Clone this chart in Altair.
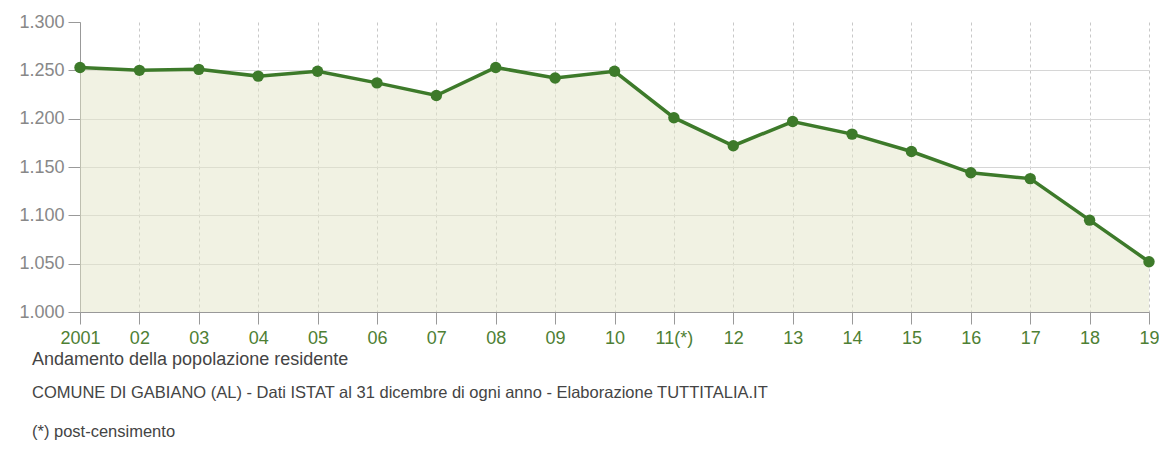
import altair as alt
import pandas as pd

# Data
years = ["2001", "02", "03", "04", "05", "06", "07", "08", "09", "10",
         "11(*)", "12", "13", "14", "15", "16", "17", "18", "19"]
population = [1253, 1250, 1251, 1244, 1249, 1237, 1224, 1253, 1242, 1249,
              1201, 1172, 1197, 1184, 1166, 1144, 1138, 1095, 1052]
y_ticks = [1000, 1050, 1100, 1150, 1200, 1250, 1300]
y_min, y_max = 1000, 1300

title_text = "Andamento della popolazione residente"
subtitle_lines = [
    "COMUNE DI GABIANO (AL) - Dati ISTAT al 31 dicembre di ogni anno - Elaborazione TUTTITALIA.IT",
    "(*) post-censimento",
]

df = pd.DataFrame({"anno": years, "pop": population})

GREEN = "#3d7a2a"
FONT = "Liberation Sans"

x = alt.X(
    "anno:O",
    sort=years,
    scale=alt.Scale(type="point", padding=0),
    axis=alt.Axis(
        title=None, labelAngle=0, labelColor="#4e8034", labelFontSize=18,
        labelFont=FONT, labelPadding=5, tickSize=12, tickColor="#999999",
        domainColor="#999999", grid=True, gridColor="#c8c8c8", gridDash=[3, 3],
    ),
)
y = alt.Y(
    "pop:Q",
    scale=alt.Scale(domain=[y_min, y_max], zero=False, nice=False),
    axis=alt.Axis(
        title=None, values=y_ticks,
        labelExpr="replace(format(datum.value, ','), ',', '.')",
        labelColor="#888888", labelFontSize=18, labelFont=FONT, labelPadding=4,
        tickSize=12, tickColor="#999999", domainColor="#999999",
        gridColor="#d6d6d6",
        gridOpacity={"condition": {"test": "datum.value === 1300", "value": 0}, "value": 1},
    ),
)

base = alt.Chart(df).encode(x=x, y=y)

area = base.mark_area(color="#e3e6c8", opacity=0.5).encode(y2=alt.datum(y_min))
line = base.mark_line(color=GREEN, strokeWidth=3.5)
points = base.mark_circle(color=GREEN, size=130, opacity=1)

chart = (
    alt.layer(area, line, points)
    .properties(
        width=1069,
        height=290,
        padding={"left": 72, "top": 14, "right": 10, "bottom": 153},
        autosize=alt.AutoSizeParams(type="none"),
        background="white",
        title=alt.TitleParams(
            text=title_text,
            subtitle=subtitle_lines,
            orient="bottom",
            anchor="start",
            frame="group",
            dx=-48,
            offset=4,
            font=FONT,
            fontSize=18,
            fontWeight="normal",
            color="#444444",
            subtitleFont=FONT,
            subtitleFontSize=16.5,
            subtitleColor="#444444",
            subtitleLineHeight=39,
            subtitlePadding=16,
        ),
    )
    .configure_view(stroke=None)
)

chart.save("out.html", embed_options={"renderer": "svg", "actions": False})
